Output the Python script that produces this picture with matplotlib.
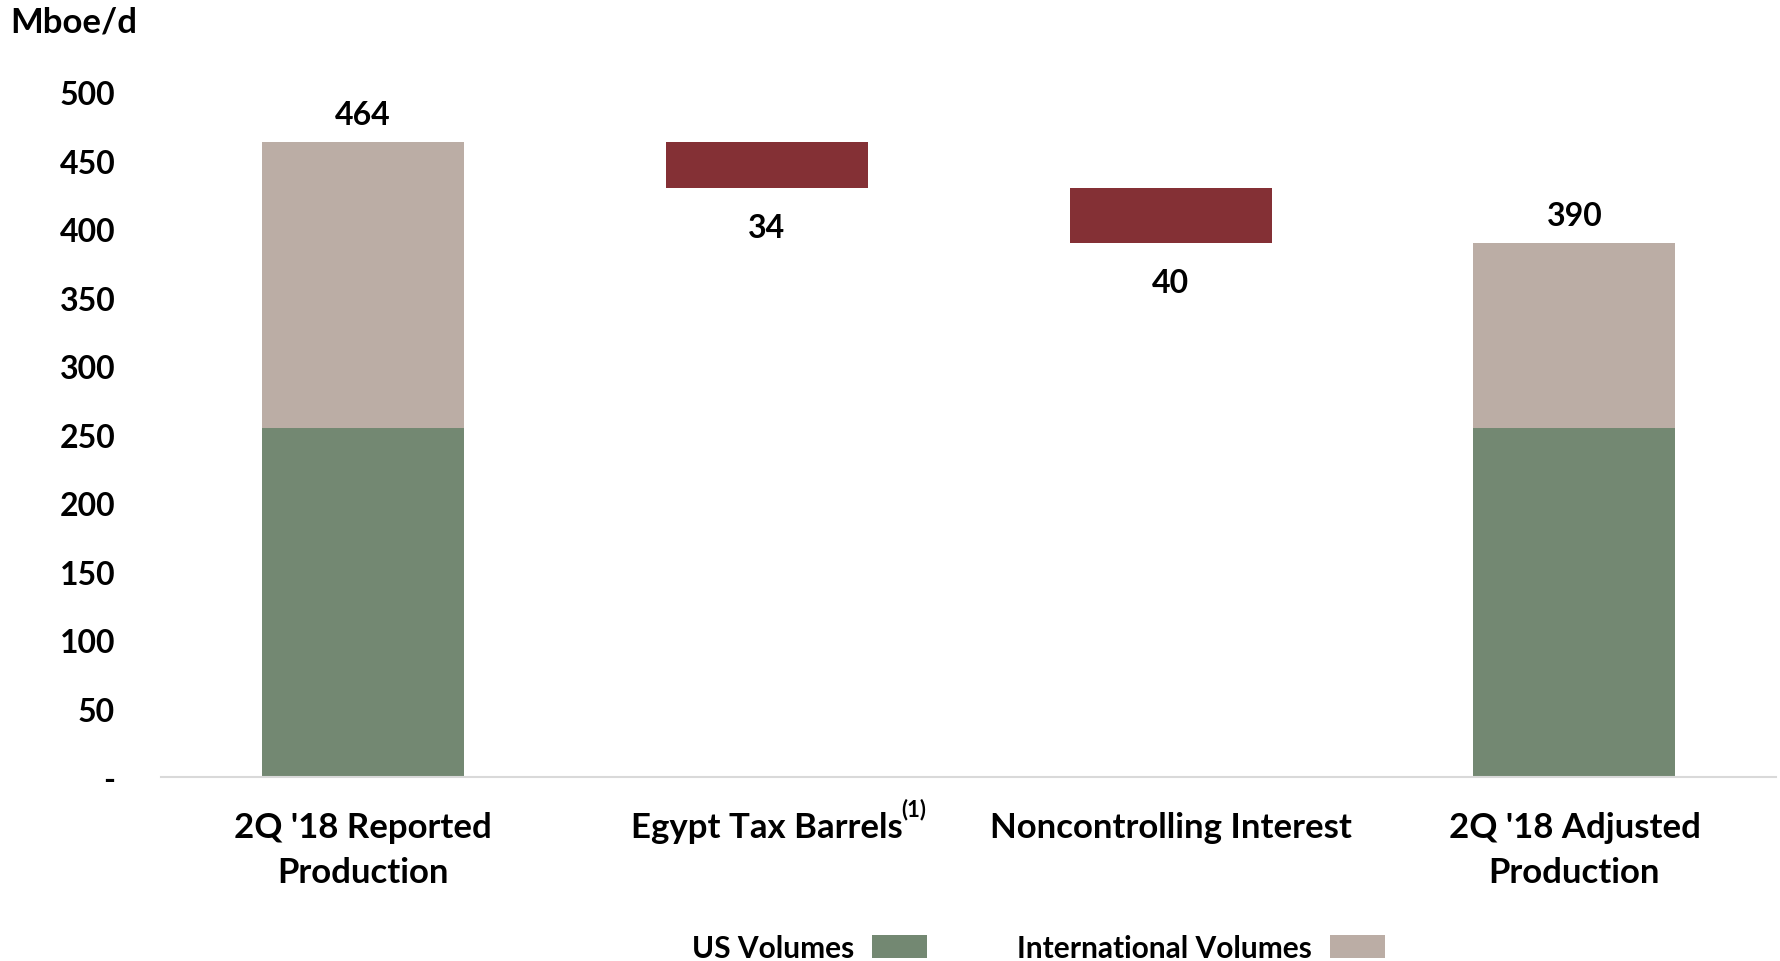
import numpy as np
import matplotlib.pyplot as plt

plt.rcParams['font.family'] = ['Lato', 'DejaVu Sans']
plt.rcParams['font.weight'] = 'bold'

# production bridge, Mboe/d
labels = ["2Q '18 Reported\nProduction", "Egypt Tax Barrels",
          "Noncontrolling Interest", "2Q '18 Adjusted\nProduction"]
totals = [464, 390]            # reported, adjusted
us_volumes = [255, 255]        # US part of each total
decreases = [34, 40]           # egypt tax barrels, noncontrolling interest

green = '#738872'
taupe = '#BBADA5'
red = '#843035'

fig = plt.figure(figsize=(17.81, 9.62), dpi=100)
ax = fig.add_axes([0.0904, 0.191, 0.907, 0.712])

x = np.arange(len(labels))
w = 0.5

# total bars: US at the bottom, international on top
tot_x = [x[0], x[3]]
intl = [t - u for t, u in zip(totals, us_volumes)]
ax.bar(tot_x, us_volumes, width=w, color=green, label='US Volumes')
ax.bar(tot_x, intl, width=w, bottom=us_volumes, color=taupe, label='International Volumes')

# floating decrease bars
level = totals[0]
for i, d in enumerate(decreases):
    ax.bar(x[i + 1], d, width=w, bottom=level - d, color=red)
    ax.text(x[i + 1], level - d - 29, str(d), ha='center', va='center',
            fontsize=23, fontweight='bold')
    level -= d

for xi, t in zip(tot_x, totals):
    ax.text(xi, t + 20, str(t), ha='center', va='center', fontsize=23, fontweight='bold')

ax.set_xlim(-0.5, 3.5)
ax.set_ylim(0, 500)
ax.set_yticks(np.arange(0, 501, 50))
ax.set_yticklabels(['-'] + [str(v) for v in range(50, 501, 50)])
ax.set_xticks(x)
ax.set_xticklabels(labels, fontsize=25, fontweight='bold', linespacing=1.5)
ax.tick_params(axis='y', labelsize=23, length=0, pad=33)
ax.tick_params(axis='x', length=0, pad=24)
for s in ['top', 'right', 'left']:
    ax.spines[s].set_visible(False)
ax.spines['bottom'].set_color('#D9D9D9')
ax.spines['bottom'].set_linewidth(1.5)

fig.text(0.006, 0.977, 'Mboe/d', fontsize=25, fontweight='bold', va='center', ha='left')

# footnote marker after the Egypt label
fig.canvas.draw()
tl = ax.get_xticklabels()[1]
bb = tl.get_window_extent()
fx, fy = fig.transFigure.inverted().transform((bb.x1, bb.y1))
fig.text(fx - 0.001, fy + 0.002, '(1)', fontsize=16, fontweight='bold', ha='left', va='center')

fig.legend(loc='center', bbox_to_anchor=(0.583, 0.014), ncol=2, frameon=False,
           markerfirst=False, fontsize=21.5, handlelength=1.85, handleheight=0.8,
           handletextpad=0.6, columnspacing=3.0)

fig.savefig('out.png', dpi=100)
